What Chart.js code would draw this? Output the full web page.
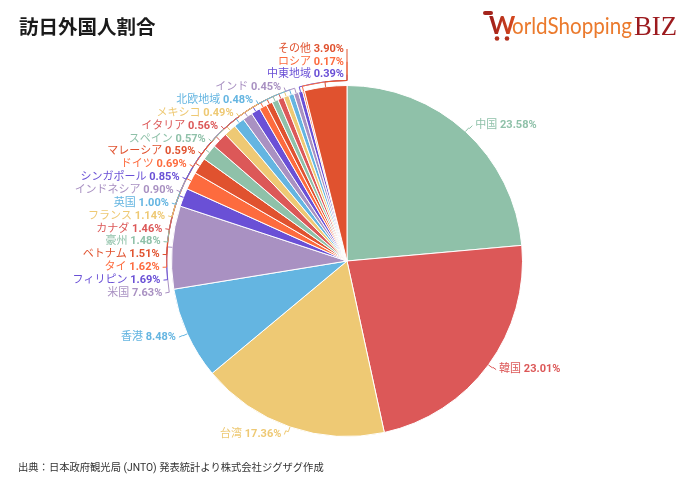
<!DOCTYPE html>
<html>
<head>
<meta charset="utf-8">
<script src="https://cdn.jsdelivr.net/npm/chart.js@4"></script>
<style>
  body { margin: 0; background: #fff; }
  #wrap { position: relative; width: 680px; height: 482px; font-family: Roboto, "Noto Sans CJK JP", sans-serif; }
  #chart { position: absolute; left: 0; top: 0; }
  #title { position: absolute; left: 19px; top: 11px; font: bold 19.5px "Noto Sans CJK JP", sans-serif; color: #1a1a1a; }
  #source { position: absolute; left: 18px; top: 459px; font: 10.3px Roboto, "Noto Sans CJK JP", sans-serif; color: #333; }
</style>
</head>
<body>
<div id="wrap">
  <canvas id="chart" width="680" height="482"></canvas>
  <div id="title">訪日外国人割合</div>
  <div id="source">出典：日本政府観光局 (JNTO) 発表統計より株式会社ジグザグ作成</div>
</div>
<script>
const countries = ['中国', '韓国', '台湾', '香港', '米国', 'フィリピン', 'タイ', 'ベトナム', '豪州', 'カナダ',
  'フランス', '英国', 'インドネシア', 'シンガポール', 'ドイツ', 'マレーシア', 'スペイン', 'イタリア',
  'メキシコ', '北欧地域', 'インド', '中東地域', 'ロシア', 'その他'];
const shares = [23.58, 23.01, 17.36, 8.48, 7.63, 1.69, 1.62, 1.51, 1.48, 1.46,
  1.14, 1.00, 0.90, 0.85, 0.69, 0.59, 0.57, 0.56,
  0.49, 0.48, 0.45, 0.39, 0.17, 3.90];

const palette = ['#8fc1a9', '#dc5858', '#eec974', '#64b5e1', '#a991c2', '#6a50d6', '#fd6b3e', '#e0522f'];
const sliceColors = countries.map((c, i) => palette[i % palette.length]);

// labels outside the pie with leader lines, stacked when they collide
const outerLabels = {
  id: 'outerLabels',
  afterDatasetsDraw(chart) {
    const ctx = chart.ctx;
    const meta = chart.getDatasetMeta(0);
    const lineH = 12.84;
    const topBound = chart.chartArea.top - 36;
    const items = meta.data.map((arc, i) => {
      const mid = (arc.startAngle + arc.endAngle) / 2;
      const r = arc.outerRadius;
      return { i, mid, cx: arc.x, cy: arc.y, r, side: Math.cos(mid) < 0 ? -1 : 1,
        y: arc.y + (r + 8) * Math.sin(mid) };
    });

    const spread = list => {
      list.sort((a, b) => a.y - b.y);
      const blocks = [];
      list.forEach((it, k) => {
        blocks.push({ sum: it.y - k * lineH, n: 1 });
        while (blocks.length > 1) {
          const b = blocks[blocks.length - 1], p = blocks[blocks.length - 2];
          if (p.sum / p.n <= b.sum / b.n) break;
          p.sum += b.sum; p.n += b.n; blocks.pop();
        }
      });
      let k = 0;
      blocks.forEach(b => {
        const z = Math.max(b.sum / b.n, topBound);
        for (let j = 0; j < b.n; j++, k++) list[k].ly = z + k * lineH;
      });
    };
    spread(items.filter(d => d.side < 0));
    spread(items.filter(d => d.side > 0));

    ctx.save();
    ctx.textBaseline = 'middle';
    items.forEach(d => {
      const color = sliceColors[d.i];
      const Rl = d.r + 9;
      const dy = d.ly - d.cy;
      const ax = d.cx + d.side * Math.sqrt(Math.max(0, Rl * Rl - dy * dy));
      let ta = Math.atan2(dy, ax - d.cx);
      while (ta - d.mid > Math.PI) ta -= 2 * Math.PI;
      while (d.mid - ta > Math.PI) ta += 2 * Math.PI;

      ctx.strokeStyle = color;
      ctx.lineWidth = 1;
      ctx.beginPath();
      ctx.moveTo(d.cx + d.r * Math.cos(d.mid), d.cy + d.r * Math.sin(d.mid));
      ctx.arc(d.cx, d.cy, d.r + 5, d.mid, ta, ta < d.mid);
      ctx.lineTo(ax, d.ly);
      ctx.stroke();

      const name = countries[d.i];
      const pct = shares[d.i].toFixed(2) + '%';
      const nameFont = '11px Roboto, "Noto Sans CJK JP", sans-serif';
      const pctFont = 'bold 11px Roboto, "Noto Sans CJK JP", sans-serif';
      ctx.fillStyle = color;
      ctx.font = pctFont;
      const pw = ctx.measureText(pct).width;
      ctx.font = nameFont;
      const nw = ctx.measureText(name + ' ').width;
      const x0 = d.side < 0 ? ax - 3 - pw - nw : ax + 3;
      ctx.textAlign = 'left';
      ctx.fillText(name + ' ', x0, d.ly);
      ctx.font = pctFont;
      ctx.fillText(pct, x0 + nw, d.ly);
    });
    ctx.restore();
  }
};

// WorldShopping BIZ logo, top right
const logo = {
  id: 'logo',
  afterDraw(chart) {
    const ctx = chart.ctx;
    ctx.save();
    ctx.fillStyle = '#a3241c';
    ctx.beginPath();
    ctx.roundRect(483, 11, 10, 4, 2);
    ctx.fill();
    ctx.font = 'bold 25px Lato, sans-serif';
    const g = ctx.createLinearGradient(490, 0, 512, 0);
    g.addColorStop(0, '#9e1d1a');
    g.addColorStop(1, '#d2471f');
    ctx.fillStyle = g;
    ctx.fillText('W', 489, 34);
    ctx.fillStyle = '#b3301d';
    [497, 507].forEach(x => { ctx.beginPath(); ctx.arc(x, 38.5, 2.3, 0, Math.PI * 2); ctx.fill(); });
    ctx.font = '23px Lato, sans-serif';
    let w = ctx.measureText('orldShopping').width;
    ctx.save();
    ctx.translate(512, 34);
    ctx.scale(120 / w, 1);
    ctx.fillStyle = '#eb7a2d';
    ctx.fillText('orldShopping', 0, 0);
    ctx.restore();
    ctx.font = '28px "Liberation Serif", serif';
    w = ctx.measureText('BIZ').width;
    ctx.translate(634, 35);
    ctx.scale(43 / w, 1);
    ctx.fillStyle = '#9c1a1e';
    ctx.fillText('BIZ', 0, 0);
    ctx.restore();
  }
};

new Chart(document.getElementById('chart'), {
  type: 'pie',
  data: {
    labels: countries,
    datasets: [{
      data: shares,
      backgroundColor: sliceColors,
      borderColor: '#ffffff',
      borderWidth: 1,
      hoverOffset: 0
    }]
  },
  options: {
    responsive: false,
    animation: false,
    layout: { padding: { top: 85, bottom: 45, left: 171, right: 157 } },
    plugins: {
      legend: { display: false },
      tooltip: { enabled: false }
    }
  },
  plugins: [outerLabels, logo]
});
</script>
</body>
</html>
